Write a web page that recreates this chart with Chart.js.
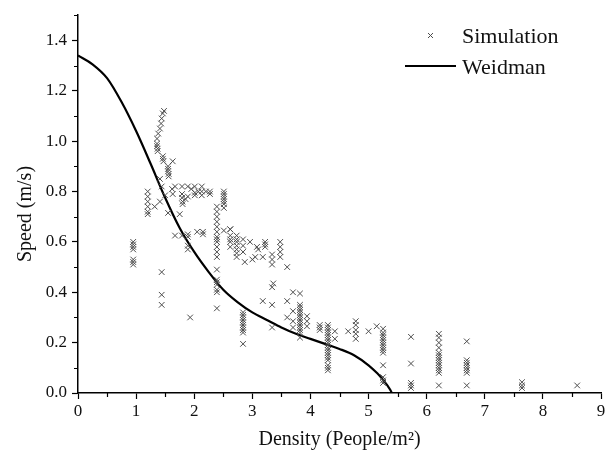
<!DOCTYPE html>
<html>
<head>
<meta charset="utf-8">
<script src="https://cdn.jsdelivr.net/npm/chart.js@4/dist/chart.umd.min.js"></script>
<style>
  html, body { margin: 0; padding: 0; background: #fff; }
  #wrap { width: 613px; height: 462px; }
</style>
</head>
<body>
<div id="wrap"><canvas id="speedChart" width="613" height="462"></canvas></div>
<script>
// simulation points (density, speed)
const simX = [
  0.95, 0.95, 0.95, 0.95, 0.95, 0.95, 0.95,
  1.2, 1.2, 1.2, 1.2, 1.2, 1.2, 1.32,
  1.36, 1.38, 1.41, 1.43, 1.44, 1.46, 1.48,
  1.36, 1.36, 1.37, 1.37, 1.46, 1.46, 1.47, 1.55, 1.55, 1.55, 1.56, 1.56, 1.63,
  1.41, 1.44, 1.62, 1.5, 1.41, 1.55, 1.75,
  1.67, 1.79, 1.89, 2.01, 2.13, 1.95, 2.07,
  1.63, 1.79, 1.79, 1.8, 1.8, 1.85, 1.89, 2.01, 2.01, 2.13, 2.13, 2.2,
  1.67, 1.79, 1.89, 1.89, 1.89, 1.89, 2.05, 2.15, 2.15,
  1.44, 1.44, 1.44, 1.93,
  2.27, 2.27,
  2.39, 2.39, 2.39, 2.39, 2.39, 2.39, 2.39, 2.39, 2.39, 2.39, 2.39, 2.39, 2.39, 2.39, 2.39, 2.39, 2.39, 2.39, 2.39,
  2.51, 2.51, 2.51, 2.51, 2.51, 2.51, 2.51, 2.51,
  2.62, 2.62, 2.62, 2.62, 2.62, 2.62,
  2.73, 2.73, 2.73, 2.73, 2.73, 2.73, 2.73,
  2.84, 2.84, 2.84, 2.84, 2.84, 2.84, 2.84, 2.84, 2.84, 2.84, 2.84, 2.84, 2.84,
  2.87, 2.96, 3.0, 3.08, 3.1, 3.05, 3.22, 3.22, 3.22, 3.18, 3.34, 3.34, 3.34, 3.48, 3.48, 3.48, 3.48, 3.6,
  3.36, 3.34, 3.18, 3.34, 3.34,
  3.6, 3.6, 3.7, 3.7, 3.7, 3.7,
  3.82, 3.82, 3.82, 3.82, 3.82, 3.82, 3.82, 3.82, 3.82, 3.82, 3.82, 3.82, 3.82, 3.82,
  3.94, 3.94, 3.94, 4.16, 4.16, 4.16,
  4.3, 4.3, 4.3, 4.3, 4.3, 4.3, 4.3, 4.3, 4.3, 4.3, 4.3, 4.3, 4.3, 4.3, 4.3, 4.3, 4.3, 4.3,
  4.42, 4.42, 4.65,
  4.78, 4.78, 4.78, 4.78, 4.78,
  5.0, 5.14,
  5.25, 5.25, 5.25, 5.25, 5.25, 5.25, 5.25, 5.25, 5.25, 5.25, 5.25, 5.25, 5.25, 5.25,
  5.73, 5.73, 5.73, 5.73, 5.73,
  6.21, 6.21, 6.21, 6.21, 6.21, 6.21, 6.21, 6.21, 6.21, 6.21, 6.21, 6.21, 6.21, 6.21,
  6.69, 6.69, 6.69, 6.69, 6.69, 6.69, 6.69, 6.69,
  7.64, 7.64, 7.64,
  8.59
];
const simY = [
  0.60, 0.59, 0.58, 0.57, 0.53, 0.52, 0.51,
  0.80, 0.78, 0.76, 0.74, 0.72, 0.71, 0.74,
  1.01, 1.03, 1.05, 1.07, 1.09, 1.11, 1.12,
  0.99, 0.98, 0.97, 0.96, 0.94, 0.93, 0.92, 0.90, 0.89, 0.88, 0.87, 0.86, 0.92,
  0.85, 0.82, 0.81, 0.785, 0.76, 0.715, 0.71,
  0.82, 0.82, 0.82, 0.82, 0.82, 0.81, 0.80,
  0.79, 0.79, 0.775, 0.76, 0.75, 0.77, 0.78, 0.785, 0.795, 0.80, 0.785, 0.80,
  0.625, 0.625, 0.63, 0.62, 0.585, 0.57, 0.64, 0.64, 0.63,
  0.48, 0.39, 0.35, 0.30,
  0.80, 0.79,
  0.74, 0.72, 0.70, 0.68, 0.66, 0.64, 0.62, 0.61, 0.60, 0.58, 0.56, 0.54, 0.49, 0.45, 0.44, 0.43, 0.41, 0.40, 0.336,
  0.80, 0.79, 0.78, 0.77, 0.76, 0.75, 0.735, 0.645,
  0.65, 0.65, 0.625, 0.61, 0.60, 0.58,
  0.625, 0.61, 0.60, 0.585, 0.57, 0.555, 0.54,
  0.61, 0.585, 0.56, 0.32, 0.31, 0.30, 0.29, 0.28, 0.27, 0.26, 0.25, 0.24, 0.195,
  0.52, 0.60, 0.53, 0.58, 0.57, 0.54, 0.60, 0.59, 0.58, 0.54, 0.55, 0.53, 0.51, 0.60, 0.58, 0.56, 0.54, 0.50,
  0.435, 0.42, 0.365, 0.35, 0.26,
  0.365, 0.30, 0.40, 0.325, 0.285, 0.26,
  0.395, 0.35, 0.34, 0.33, 0.32, 0.31, 0.30, 0.29, 0.28, 0.27, 0.26, 0.25, 0.24, 0.22,
  0.305, 0.285, 0.265, 0.27, 0.26, 0.25,
  0.27, 0.26, 0.25, 0.24, 0.23, 0.22, 0.21, 0.20, 0.19, 0.18, 0.17, 0.16, 0.15, 0.14, 0.13, 0.11, 0.10, 0.09,
  0.245, 0.215, 0.245,
  0.285, 0.27, 0.25, 0.235, 0.215,
  0.245, 0.265,
  0.255, 0.24, 0.23, 0.22, 0.21, 0.20, 0.19, 0.18, 0.17, 0.16, 0.11, 0.063, 0.05, 0.04,
  0.223, 0.117, 0.04, 0.03, 0.02,
  0.235, 0.22, 0.20, 0.18, 0.16, 0.15, 0.14, 0.13, 0.12, 0.11, 0.10, 0.09, 0.08, 0.03,
  0.205, 0.13, 0.12, 0.11, 0.10, 0.09, 0.08, 0.03,
  0.043, 0.03, 0.02,
  0.03
];

// Weidman curve
const curveX = [0, 0.25, 0.5, 0.75, 1.0, 1.25, 1.5, 1.75, 2.0, 2.25, 2.5, 2.75, 3.0, 3.25, 3.5, 3.75, 4.0, 4.25, 4.5, 4.75, 5.0, 5.15, 5.25, 5.33, 5.38, 5.4];
const curveY = [1.34, 1.305, 1.25, 1.155, 1.04, 0.91, 0.775, 0.655, 0.56, 0.48, 0.41, 0.36, 0.32, 0.29, 0.26, 0.235, 0.215, 0.195, 0.175, 0.15, 0.11, 0.078, 0.052, 0.028, 0.01, 0.0];

const xTicks = [0, 1, 2, 3, 4, 5, 6, 7, 8, 9];
const yTicks = [0, 0.2, 0.4, 0.6, 0.8, 1.0, 1.2, 1.4];
const xMinor = [0.5, 1.5, 2.5, 3.5, 4.5, 5.5, 6.5, 7.5, 8.5];
const yMinor = [0.1, 0.3, 0.5, 0.7, 0.9, 1.1, 1.3, 1.5];

const serif = '"Liberation Serif", "Times New Roman", serif';
const simColor = '#4d4d4d';

// minor ticks, axis titles and the legend
const extras = {
    id: 'extras',
    afterDraw(chart) {
        const ctx = chart.ctx;
        const xs = chart.scales.x, ys = chart.scales.y;
        const area = chart.chartArea;
        ctx.save();
        ctx.strokeStyle = '#000';
        ctx.lineWidth = 1.2;
        ctx.beginPath();
        xMinor.forEach(v => {
            const px = Math.round(xs.getPixelForValue(v)) + 0.5;
            ctx.moveTo(px, area.bottom);
            ctx.lineTo(px, area.bottom + 4);
        });
        yMinor.forEach(v => {
            const py = Math.round(ys.getPixelForValue(v)) + 0.5;
            ctx.moveTo(area.left, py);
            ctx.lineTo(area.left - 4, py);
        });
        ctx.stroke();

        ctx.fillStyle = '#111';
        ctx.font = '20px ' + serif;
        ctx.textAlign = 'center';
        ctx.textBaseline = 'alphabetic';
        ctx.fillText('Density (People/m²)', (area.left + area.right) / 2, 445);
        ctx.save();
        ctx.translate(31, 214);
        ctx.rotate(-Math.PI / 2);
        ctx.fillText('Speed (m/s)', 0, 0);
        ctx.restore();

        // legend
        ctx.font = '22px ' + serif;
        ctx.textAlign = 'left';
        ctx.fillText(chart.data.datasets[0].label, 462, 43);
        ctx.fillText(chart.data.datasets[1].label, 462, 74);
        ctx.strokeStyle = simColor;
        ctx.lineWidth = 1;
        ctx.beginPath();
        ctx.moveTo(428, 33); ctx.lineTo(433, 38);
        ctx.moveTo(433, 33); ctx.lineTo(428, 38);
        ctx.stroke();
        ctx.strokeStyle = '#000';
        ctx.lineWidth = 2;
        ctx.beginPath();
        ctx.moveTo(405, 66); ctx.lineTo(456, 66);
        ctx.stroke();
        ctx.restore();
    }
};

const ctx = document.getElementById('speedChart').getContext('2d');
new Chart(ctx, {
    type: 'scatter',
    data: {
        datasets: [{
            label: 'Simulation',
            data: simX.map((x, i) => ({ x: x, y: simY[i] })),
            pointStyle: 'crossRot',
            pointRadius: 4,
            borderColor: simColor,
            backgroundColor: simColor,
            borderWidth: 1,
            showLine: false
        }, {
            label: 'Weidman',
            data: curveX.map((x, i) => ({ x: x, y: curveY[i] })),
            showLine: true,
            pointRadius: 0,
            borderColor: '#000',
            borderWidth: 2.2,
            cubicInterpolationMode: 'monotone'
        }]
    },
    options: {
        responsive: false,
        animation: false,
        layout: { padding: { top: 9, right: 12, left: 0, bottom: 0 } },
        plugins: { legend: { display: false }, tooltip: { enabled: false } },
        scales: {
            x: {
                type: 'linear',
                min: 0, max: 9,
                afterBuildTicks: s => { s.ticks = xTicks.map(v => ({ value: v })); },
                afterFit: s => { s.height = 69; },
                grid: { drawOnChartArea: false, drawTicks: true, tickLength: 6, tickColor: '#000', tickWidth: 1.2 },
                border: { display: true, color: '#000', width: 1.5 },
                ticks: { color: '#111', font: { family: serif, size: 17 }, padding: 2, maxRotation: 0 }
            },
            y: {
                type: 'linear',
                min: 0, max: 1.5,
                afterBuildTicks: s => { s.ticks = yTicks.map(v => ({ value: v })); },
                afterFit: s => { s.width = 78; },
                grid: { drawOnChartArea: false, drawTicks: true, tickLength: 6, tickColor: '#000', tickWidth: 1.2 },
                border: { display: true, color: '#000', width: 1.5 },
                ticks: { color: '#111', font: { family: serif, size: 17 }, padding: 5, callback: v => v.toFixed(1) }
            }
        }
    },
    plugins: [extras]
});
</script>
</body>
</html>
